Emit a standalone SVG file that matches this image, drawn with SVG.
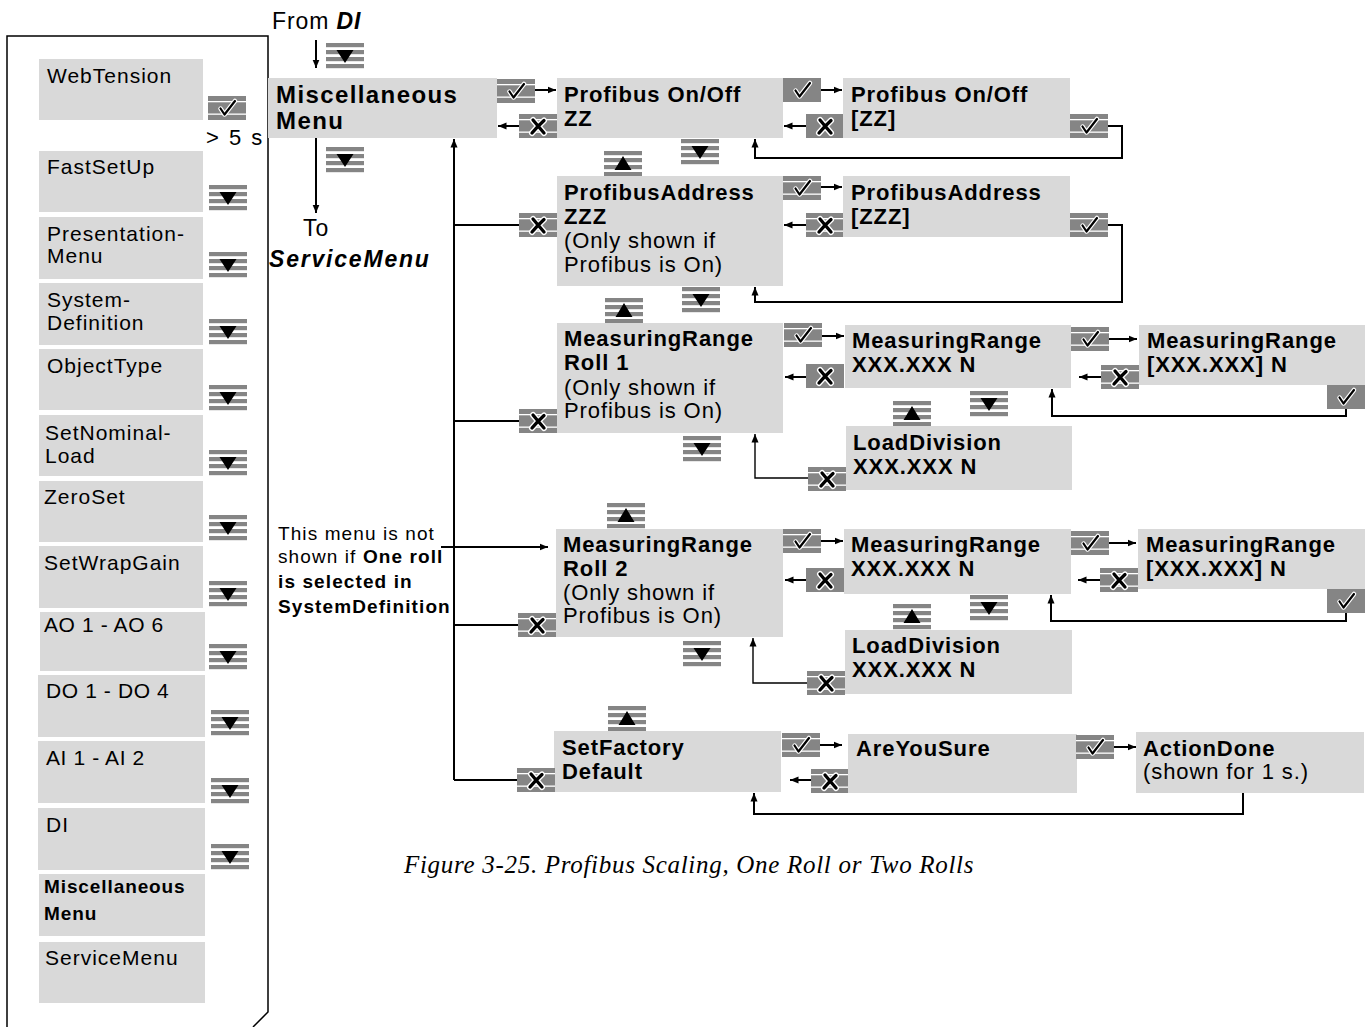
<svg xmlns="http://www.w3.org/2000/svg" xmlns:xlink="http://www.w3.org/1999/xlink" width="1365" height="1027" viewBox="0 0 1365 1027">
<style>
.bx{fill:#d9d9d9}
.t{font-family:"Liberation Sans",Arial,sans-serif;font-size:22px;letter-spacing:0.9px;fill:#000}
.l{font-family:"Liberation Sans",Arial,sans-serif;font-size:21px;letter-spacing:1px;fill:#000}
.n{font-size:19px;letter-spacing:1.1px}
.b{font-weight:bold}
.ln{stroke:#000;stroke-width:2;fill:none}
.th{stroke:#000;stroke-width:1.4;fill:none}
.ar{marker-end:url(#ah)}
.g{fill:#858585}
.w{fill:#fff}
.gl{stroke:#000;fill:none;stroke-linecap:round;stroke-linejoin:round}
.hl{stroke:#fff;fill:none;stroke-linecap:round;stroke-linejoin:round}
</style>
<defs>
<marker id="ah" markerUnits="userSpaceOnUse" markerWidth="9" markerHeight="8" refX="8.5" refY="4" orient="auto"><path d="M0,0.5 L8.5,4 L0,7.5 z" fill="#000"/></marker>
<g id="stripes"><rect class="g" y="0" width="38" height="4.2"/><rect class="g" y="7" width="38" height="4.2"/><rect class="g" y="14" width="38" height="4.2"/><rect class="g" y="21" width="38" height="4.2"/></g>
<g id="dn"><use href="#stripes"/><polygon points="10.5,7 27.5,7 19,20" fill="#000"/></g>
<g id="up"><use href="#stripes"/><polygon points="19,5 27.5,19 10.5,19" fill="#000"/></g>
<g id="tick"><path class="hl" stroke-width="4.5" d="M12.5,12.5 L16.5,18.5 L27,5"/><path class="gl" stroke-width="2.2" d="M12.5,12.5 L16.5,18.5 L27,5"/></g>
<g id="xg"><path class="hl" stroke-width="6" d="M14,6 Q19,12 25,19 M25,6.5 Q18,13 13,19"/><path class="gl" stroke-width="3.3" d="M14,6 Q19,12 25,19 M25,6.5 Q18,13 13,19"/></g>
<g id="ok"><rect class="g" width="38" height="24"/><rect class="w" y="5" width="38" height="1.3"/><rect class="w" y="17.5" width="38" height="1.3"/><use href="#tick"/></g>
<g id="okp"><rect class="g" width="38" height="24"/><use href="#tick"/></g>
<g id="esc"><rect class="g" width="38" height="24"/><rect class="w" y="5" width="38" height="1.3"/><rect class="w" y="17.5" width="38" height="1.3"/><use href="#xg"/></g>
<g id="escp"><rect class="g" width="38" height="24"/><use href="#xg"/></g>
</defs>

<rect width="1365" height="1027" fill="#fff"/>

<!-- left panel -->
<g id="panel">
<path d="M7,1027 L7,36 L268,36 L268,1012 L253,1027" stroke="#000" stroke-width="1.5" fill="none"/>
<g id="l-webtension"><rect class="bx" x="39" y="59" width="164" height="61"/><text class="l" x="47" y="83">WebTension</text><use href="#ok" x="208" y="96"/><text class="t" style="letter-spacing:2px" x="206" y="145">&gt; 5 s</text></g>
<g id="l-fastsetup"><rect class="bx" x="39" y="151" width="164" height="61"/><text class="l" x="47" y="174">FastSetUp</text><use href="#dn" x="209" y="185"/></g>
<g id="l-presentation"><rect class="bx" x="39" y="217" width="164" height="62"/><text class="l" x="47" y="241">Presentation-</text><text class="l" x="47" y="263">Menu</text><use href="#dn" x="209" y="252"/></g>
<g id="l-systemdef"><rect class="bx" x="39" y="283" width="164" height="62"/><text class="l" x="47" y="307">System-</text><text class="l" x="47" y="330">Definition</text><use href="#dn" x="209" y="319"/></g>
<g id="l-objecttype"><rect class="bx" x="39" y="349" width="164" height="61"/><text class="l" x="47" y="373">ObjectType</text><use href="#dn" x="209" y="385"/></g>
<g id="l-setnominal"><rect class="bx" x="39" y="415" width="164" height="61"/><text class="l" x="45" y="440">SetNominal-</text><text class="l" x="45" y="463">Load</text><use href="#dn" x="209" y="450"/></g>
<g id="l-zeroset"><rect class="bx" x="39" y="481" width="164" height="61"/><text class="l" x="44" y="504">ZeroSet</text><use href="#dn" x="209" y="515"/></g>
<g id="l-setwrapgain"><rect class="bx" x="39" y="546" width="164" height="62"/><text class="l" x="44" y="570">SetWrapGain</text><use href="#dn" x="209" y="581"/></g>
<g id="l-ao"><rect class="bx" x="40" y="612" width="165" height="59"/><text class="l" style="letter-spacing:0.6px" x="44" y="632">AO 1 - AO 6</text><use href="#dn" x="209" y="644"/></g>
<g id="l-do"><rect class="bx" x="38" y="675" width="167" height="62"/><text class="l" style="letter-spacing:0.6px" x="46" y="698">DO 1 - DO 4</text><use href="#dn" x="211" y="710"/></g>
<g id="l-ai"><rect class="bx" x="38" y="741" width="167" height="62"/><text class="l" style="letter-spacing:0.6px" x="46" y="765">AI 1 - AI 2</text><use href="#dn" x="211" y="778"/></g>
<g id="l-di"><rect class="bx" x="38" y="808" width="167" height="62"/><text class="l" x="46" y="832">DI</text><use href="#dn" x="211" y="844"/></g>
<g id="l-misc"><rect class="bx" x="39" y="874" width="166" height="62"/><text class="l b" style="font-size:19px;letter-spacing:0.9px" x="44" y="893">Miscellaneous</text><text class="l b" style="font-size:19px;letter-spacing:0.9px" x="44" y="920">Menu</text></g>
<g id="l-service"><rect class="bx" x="39" y="942" width="166" height="61"/><text class="l" x="45" y="965">ServiceMenu</text></g>
</g>

<!-- connectors -->
<g id="connectors">
<path class="ln ar" d="M316,40 L316,68"/>
<path class="ln ar" d="M316,138 L316,213"/>
<path class="ln ar" d="M535,90 L556,90"/>
<path class="ln ar" d="M519,126 L498,126"/>
<path class="ln ar" d="M454,780 L454,139"/>
<path class="ln" d="M454,225 L519,225 M454,421 L519,421 M454,625 L518,625 M454,780 L517,780"/>
<path class="ln ar" d="M441,547 L548,547"/>
<path class="ln ar" d="M821,90 L842,90"/>
<path class="ln ar" d="M806,126 L784,126"/>
<path class="ln ar" d="M1108,126 L1122,126 L1122,158 L755,158 L755,139"/>
<path class="ln ar" d="M821,187 L842,187"/>
<path class="ln ar" d="M806,225 L784,225"/>
<path class="ln ar" d="M1108,225 L1122,225 L1122,302 L755,302 L755,287"/>
<path class="ln ar" d="M822,336 L844,336"/>
<path class="ln ar" d="M806,377 L785,377"/>
<path class="ln ar" d="M1109,339 L1137,339"/>
<path class="ln ar" d="M1101,377 L1079,377"/>
<path class="ln ar" d="M1346,409 L1346,416 L1052,416 L1052,389"/>
<path class="th ar" d="M808,478 L755,478 L755,434"/>
<path class="ln ar" d="M821,541 L843,541"/>
<path class="ln ar" d="M806,580 L785,580"/>
<path class="ln ar" d="M1109,543 L1136,543"/>
<path class="ln ar" d="M1100,580 L1078,580"/>
<path class="ln ar" d="M1346,613 L1346,621 L1051,621 L1051,595"/>
<path class="th ar" d="M807,683 L753,683 L753,638"/>
<path class="ln ar" d="M820,745 L842,745"/>
<path class="ln ar" d="M811,780 L790,780"/>
<path class="ln ar" d="M1114,747 L1136,747"/>
<path class="ln ar" d="M1243,793 L1243,814 L754,814 L754,793"/>
</g>

<!-- labels -->
<g id="from-di"><text class="t" style="font-size:23px" x="272" y="29">From <tspan class="b" font-style="italic">DI</tspan></text><use href="#dn" x="326" y="43"/></g>
<g id="to-service"><use href="#dn" x="326" y="147"/><text class="t" style="font-size:23px" x="303" y="236">To</text><text class="t b" font-style="italic" style="font-size:23px;letter-spacing:1.8px" x="269" y="267">ServiceMenu</text></g>
<g id="note"><text class="t n" x="278" y="540">This menu is not</text><text class="t n" x="278" y="563">shown if <tspan class="b">One roll</tspan></text><text class="t n b" x="278" y="588">is selected in</text><text class="t n b" x="278" y="613">SystemDefinition</text></g>

<!-- nodes -->
<g id="misc"><rect class="bx" x="268" y="78" width="229" height="60"/><text class="t b" style="font-size:24px;letter-spacing:1.4px" x="276" y="103">Miscellaneous</text><text class="t b" style="font-size:24px;letter-spacing:1.4px" x="276" y="129">Menu</text><use href="#ok" x="497" y="79"/><use href="#esc" x="519" y="114"/></g>

<g id="pb-onoff"><rect class="bx" x="557" y="78" width="226" height="60"/><text class="t b" x="564" y="102">Profibus On/Off</text><text class="t b" x="564" y="126">ZZ</text><use href="#okp" x="783" y="78"/><use href="#escp" x="806" y="114"/><use href="#dn" x="681" y="139"/></g>
<g id="pb-onoff-edit"><rect class="bx" x="843" y="78" width="227" height="60"/><text class="t b" x="851" y="102">Profibus On/Off</text><text class="t b" x="851" y="126">[ZZ]</text><use href="#ok" x="1070" y="114"/></g>

<g id="pb-addr"><use href="#up" x="604" y="151"/><rect class="bx" x="557" y="176" width="226" height="110"/><text class="t b" x="564" y="200">ProfibusAddress</text><text class="t b" x="564" y="224">ZZZ</text><text class="t" x="564" y="248">(Only shown if</text><text class="t" x="564" y="272">Profibus is On)</text><use href="#esc" x="519" y="213"/><use href="#ok" x="783" y="176"/><use href="#esc" x="806" y="213"/><use href="#dn" x="682" y="287"/></g>
<g id="pb-addr-edit"><rect class="bx" x="843" y="176" width="227" height="61"/><text class="t b" x="851" y="200">ProfibusAddress</text><text class="t b" x="851" y="224">[ZZZ]</text><use href="#ok" x="1070" y="213"/></g>

<g id="mr1"><use href="#up" x="605" y="298"/><rect class="bx" x="557" y="323" width="226" height="110"/><text class="t b" x="564" y="346">MeasuringRange</text><text class="t b" x="564" y="370">Roll 1</text><text class="t" x="564" y="395">(Only shown if</text><text class="t" x="564" y="418">Profibus is On)</text><use href="#esc" x="519" y="409"/><use href="#ok" x="784" y="323"/><use href="#escp" x="806" y="364"/><use href="#dn" x="683" y="436"/></g>
<g id="mr1-val"><rect class="bx" x="845" y="325" width="226" height="63"/><text class="t b" x="852" y="348">MeasuringRange</text><text class="t b" x="852" y="372">XXX.XXX N</text><use href="#ok" x="1071" y="327"/><use href="#dn" x="970" y="391"/></g>
<g id="mr1-edit"><rect class="bx" x="1139" y="325" width="226" height="60"/><text class="t b" x="1147" y="348">MeasuringRange</text><text class="t b" x="1147" y="372">[XXX.XXX] N</text><use href="#esc" x="1101" y="365"/><use href="#okp" x="1327" y="385"/></g>
<g id="ld1"><use href="#up" x="893" y="401"/><rect class="bx" x="846" y="426" width="226" height="64"/><text class="t b" x="853" y="450">LoadDivision</text><text class="t b" x="853" y="474">XXX.XXX N</text><use href="#esc" x="808" y="467"/></g>

<g id="mr2"><use href="#up" x="607" y="503"/><rect class="bx" x="556" y="529" width="227" height="108"/><text class="t b" x="563" y="552">MeasuringRange</text><text class="t b" x="563" y="576">Roll 2</text><text class="t" x="563" y="600">(Only shown if</text><text class="t" x="563" y="623">Profibus is On)</text><use href="#esc" x="518" y="613"/><use href="#ok" x="783" y="529"/><use href="#escp" x="806" y="568"/><use href="#dn" x="683" y="641"/></g>
<g id="mr2-val"><rect class="bx" x="844" y="529" width="227" height="65"/><text class="t b" x="851" y="552">MeasuringRange</text><text class="t b" x="851" y="576">XXX.XXX N</text><use href="#ok" x="1071" y="531"/><use href="#dn" x="970" y="595"/></g>
<g id="mr2-edit"><rect class="bx" x="1138" y="529" width="227" height="60"/><text class="t b" x="1146" y="552">MeasuringRange</text><text class="t b" x="1146" y="576">[XXX.XXX] N</text><use href="#esc" x="1100" y="568"/><use href="#okp" x="1327" y="589"/></g>
<g id="ld2"><use href="#up" x="893" y="604"/><rect class="bx" x="845" y="630" width="227" height="64"/><text class="t b" x="852" y="653">LoadDivision</text><text class="t b" x="852" y="677">XXX.XXX N</text><use href="#esc" x="807" y="671"/></g>

<g id="setfactory"><use href="#up" x="608" y="706"/><rect class="bx" x="554" y="731" width="227" height="61"/><text class="t b" x="562" y="755">SetFactory</text><text class="t b" x="562" y="779">Default</text><use href="#esc" x="517" y="768"/><use href="#ok" x="782" y="733"/><use href="#esc" x="811" y="769"/></g>
<g id="areyousure"><rect class="bx" x="848" y="734" width="229" height="59"/><text class="t b" x="856" y="756">AreYouSure</text><use href="#ok" x="1076" y="735"/></g>
<g id="actiondone"><rect class="bx" x="1136" y="732" width="228" height="61"/><text class="t b" x="1143" y="756">ActionDone</text><text class="t" x="1143" y="779">(shown for 1 s.)</text></g>

<text x="404" y="873" style="font-family:'Liberation Serif','Times New Roman',serif;font-style:italic;font-size:25px;letter-spacing:0.7px">Figure 3-25. Profibus Scaling, One Roll or Two Rolls</text>
</svg>
